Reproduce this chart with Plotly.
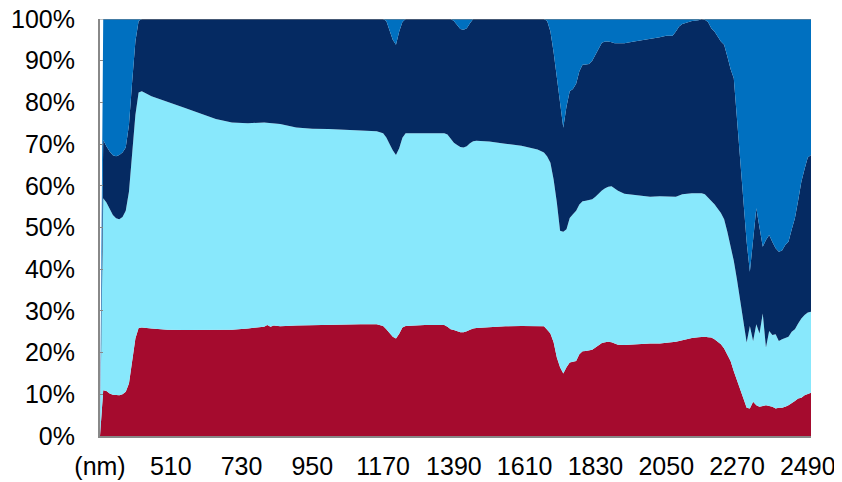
import plotly.graph_objects as go

# Wavelength (nm); first category is the "(nm)" header row (empty values)
wavelength = [290, 300, 310, 320, 330, 340, 350, 360, 370, 380, 390, 400, 410, 420, 450, 500, 550, 600, 650, 700,
              750, 800, 810, 820, 830, 850, 900, 950, 1000, 1050, 1100, 1150, 1170, 1180, 1190, 1200, 1210, 1220,
              1230, 1240, 1300, 1360, 1370, 1380, 1390, 1400, 1410, 1420, 1430, 1440, 1450, 1460, 1500, 1550, 1600,
              1650, 1670, 1680, 1690, 1700, 1710, 1720, 1730, 1740, 1750, 1760, 1770, 1780, 1790, 1800, 1810, 1820,
              1830, 1840, 1850, 1860, 1870, 1880, 1890, 1900, 1920, 1950, 2000, 2030, 2050, 2070, 2080, 2090, 2100,
              2130, 2150, 2160, 2170, 2180, 2190, 2200, 2220, 2230, 2240, 2250, 2260, 2270, 2280, 2290, 2300, 2310,
              2320, 2330, 2340, 2350, 2360, 2370, 2380, 2390, 2400, 2410, 2420, 2430, 2440, 2450, 2460, 2470, 2480,
              2490, 2500]

series_red = [0, 11.0, 10.8, 10.2, 9.9, 9.8, 9.8, 10.0, 10.6, 12.6, 17.8, 23.4, 25.9, 26.0, 25.8, 25.5, 25.4, 25.4, 25.4, 25.5,
              25.8, 26.2, 26.6, 26.2, 26.5, 26.3, 26.5, 26.6, 26.7, 26.7, 26.8, 26.8, 26.4, 25.6, 24.6, 23.8, 23.4, 24.5,
              26.0, 26.4, 26.6, 26.6, 26.2, 25.6, 25.4, 25.1, 24.9, 24.9, 25.1, 25.5, 25.8, 25.9, 26.1, 26.3, 26.4,
              26.4, 26.3, 25.5, 24.6, 22.5, 18.8, 16.5, 15.0, 16.5, 17.6, 17.8, 18.0, 19.6, 20.3, 20.4, 20.5, 20.7,
              21.2, 21.8, 22.3, 22.5, 22.6, 22.5, 22.2, 21.9, 21.8, 22.0, 22.2, 22.2, 22.3, 22.5, 22.6, 22.8, 23.0,
              23.5, 23.7, 23.8, 23.8, 23.7, 23.6, 23.2, 22.0, 21.0, 19.5, 18.0, 15.5, 13.5, 11.5, 9.0, 6.8, 6.6,
              8.2, 7.4, 7.0, 7.2, 7.4, 7.2, 7.0, 6.6, 6.8, 6.8, 7.0, 7.4, 7.8, 8.4, 9.0, 9.2, 9.8,
              10.2, 10.4]

series_cyan = [0, 46.0, 45.2, 44.3, 43.1, 42.4, 42.2, 42.5, 43.4, 46.0, 49.6, 53.6, 56.5, 56.7, 55.7, 54.7, 53.4, 52.0, 50.6, 49.7,
               49.2, 49.0, 48.5, 48.8, 48.5, 48.5, 47.5, 47.1, 46.9, 46.7, 46.5, 46.3, 46.2, 46.0, 45.4, 44.7, 44.0, 44.5,
               45.5, 46.2, 46.0, 46.0, 46.1, 45.6, 44.9, 44.7, 44.4, 44.3, 44.4, 44.7, 44.9, 44.9, 44.5, 43.8, 43.2,
               42.3, 41.7, 41.5, 40.9, 39.0, 37.2, 32.7, 34.0, 33.1, 34.7, 35.4, 36.0, 35.9, 36.0, 36.0, 36.1, 36.1,
               36.2, 36.4, 36.6, 36.9, 37.2, 37.4, 37.2, 36.9, 36.3, 35.8, 35.2, 35.3, 35.2, 34.9, 34.8, 34.9, 35.0,
               34.7, 34.6, 34.4, 34.2, 33.5, 32.8, 32.4, 31.5, 31.0, 29.5, 27.5, 26.5, 24.0, 21.0, 18.0, 15.6, 19.8,
               14.6, 19.4, 17.6, 22.2, 13.8, 18.0, 17.2, 17.8, 16.0, 16.4, 16.6, 16.4, 17.2, 17.2, 18.0, 19.0, 19.2,
               19.4, 19.4]

series_navy = [0, 14.0, 13.5, 13.7, 14.3, 14.9, 15.4, 15.5, 15.2, 16.0, 17.6, 17.6, 17.1, 17.3, 18.5, 19.8, 21.2, 22.6, 24.0, 24.8,
               25.0, 24.8, 24.9, 25.0, 25.0, 25.2, 26.0, 26.3, 26.4, 26.6, 26.7, 26.9, 27.4, 27.9, 27.0, 26.5, 26.4, 28.0,
               27.8, 27.4, 27.4, 27.4, 27.7, 28.8, 29.2, 28.7, 28.3, 28.2, 28.3, 28.8, 29.3, 29.2, 29.4, 29.9, 30.4,
               31.3, 32.0, 32.5, 31.5, 30.5, 30.0, 30.8, 24.9, 29.4, 30.4, 30.0, 30.5, 32.0, 32.7, 32.7, 32.6, 33.2,
               34.1, 34.8, 35.4, 35.2, 34.8, 34.5, 34.8, 35.4, 36.1, 36.8, 37.8, 38.1, 38.5, 38.6, 39.6, 40.5, 40.8,
               41.3, 41.4, 41.8, 41.8, 42.1, 41.4, 41.4, 41.1, 41.8, 42.0, 42.5, 43.8, 38.5, 34.5, 30.0, 24.1, 13.0,
               24.2, 27.8, 25.4, 16.0, 25.8, 23.0, 22.3, 20.6, 21.4, 21.3, 22.2, 22.8, 24.5, 26.6, 29.5, 32.8, 35.0,
               37.2, 37.6]

series_blue = [0, 29.0, 30.5, 31.8, 32.7, 32.9, 32.6, 32.0, 30.8, 25.4, 15.0, 5.4, 0.5, 0, 0, 0, 0, 0, 0, 0,
               0, 0, 0, 0, 0, 0, 0, 0, 0, 0, 0, 0, 0, 0.5, 3.0, 5.0, 6.2, 3.0,
               0.7, 0, 0, 0, 0, 0, 0.5, 1.5, 2.4, 2.6, 2.2, 1.0, 0, 0, 0, 0, 0,
               0, 0, 0.5, 3.0, 8.0, 14.0, 20.0, 26.1, 21.0, 17.3, 16.8, 15.5, 12.5, 11.0, 10.9, 10.8, 10.0,
               8.5, 7.0, 5.7, 5.4, 5.4, 5.6, 5.8, 5.8, 5.8, 5.4, 4.8, 4.4, 4.0, 4.0, 3.0, 1.8, 1.2,
               0.5, 0.3, 0, 0.2, 0.7, 2.2, 3.0, 5.4, 6.2, 9.0, 12.0, 14.2, 24.0, 33.0, 43.0, 53.5, 60.6,
               53.0, 45.4, 50.0, 54.6, 53.0, 51.8, 53.5, 55.0, 55.8, 55.5, 54.2, 53.4, 50.5, 47.8, 43.5, 39.0, 36.0,
               33.2, 32.6]

tick_values = [290, 510, 730, 950, 1170, 1390, 1610, 1830, 2050, 2270, 2490]
tick_labels = ["(nm)", "510", "730", "950", "1170", "1390", "1610", "1830", "2050", "2270", "2490"]
y_ticks = [0, 10, 20, 30, 40, 50, 60, 70, 80, 90, 100]
y_labels = ["0%", "10%", "20%", "30%", "40%", "50%", "60%", "70%", "80%", "90%", "100%"]

colors = ["#A50B2E", "#88E8FC", "#052A62", "#0070C0"]
names = ["Series 1", "Series 2", "Series 3", "Series 4"]

fig = go.Figure()
for vals, col, nm in zip([series_red, series_cyan, series_navy, series_blue], colors, names):
    fig.add_trace(go.Scatter(
        x=wavelength, y=vals, name=nm, mode="lines",
        stackgroup="one", line=dict(width=0, color=col), fillcolor=col,
        hoverinfo="x+y"))

fig.add_shape(type="line", xref="paper", yref="y", x0=0, x1=1, y0=100, y1=100,
              line=dict(color="#888888", width=1), layer="above")

# The page body has an 8px default margin, so the figure is offset by (8, 8)
fig.update_layout(
    width=834, height=474,
    margin=dict(l=92, r=31, t=11, b=46, autoexpand=False),
    paper_bgcolor="white", plot_bgcolor="white",
    showlegend=False,
    font=dict(family="Liberation Sans, Arial, sans-serif", size=25, color="#000000"),
    xaxis=dict(range=[290, 2500], tickmode="array", tickvals=tick_values, ticktext=tick_labels,
               showgrid=False, zeroline=False, showline=True, linecolor="#888888", linewidth=2,
               ticks="", ticklabelstandoff=7, automargin=False, ticklabeloverflow="allow"),
    yaxis=dict(range=[0, 100], tickmode="array", tickvals=y_ticks, ticktext=y_labels,
               showgrid=False, zeroline=False, showline=True, linecolor="#888888", linewidth=2,
               ticks="inside", ticklen=3, tickcolor="#888888", ticklabelstandoff=18, automargin=False,
               ticklabeloverflow="allow"),
)

fig.write_html("out.html")
